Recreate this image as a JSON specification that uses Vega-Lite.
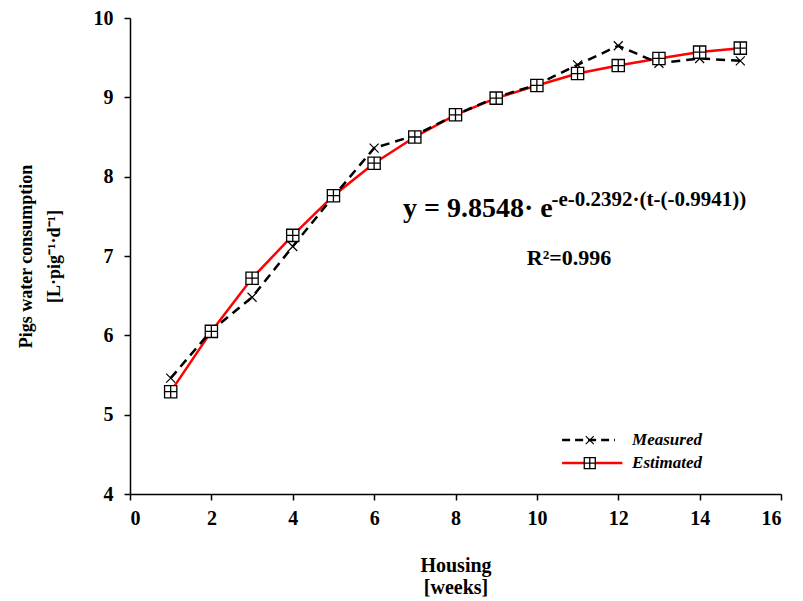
{
  "$schema": "https://vega.github.io/schema/vega-lite/v6.json",
  "width": 651,
  "height": 476,
  "autosize": {"type": "none"},
  "padding": {"left": 130, "top": 18, "right": 22, "bottom": 107},
  "background": "white",
  "config": {
    "view": {"stroke": null},
    "axis": {
      "grid": false,
      "labelFont": "Liberation Serif",
      "labelFontWeight": "bold",
      "labelFontSize": 20,
      "labelColor": "black",
      "titleFont": "Liberation Serif",
      "titleFontWeight": "bold",
      "titleColor": "black",
      "domainColor": "black",
      "tickColor": "black",
      "domainWidth": 1.5,
      "tickWidth": 1.5,
      "tickSize": 6
    }
  },
  "datasets": {
    "obs": [
      {"week": 1, "series": "Measured", "value": 5.46},
      {"week": 2, "series": "Measured", "value": 6.06},
      {"week": 3, "series": "Measured", "value": 6.48},
      {"week": 4, "series": "Measured", "value": 7.12},
      {"week": 5, "series": "Measured", "value": 7.75},
      {"week": 6, "series": "Measured", "value": 8.36},
      {"week": 7, "series": "Measured", "value": 8.52},
      {"week": 8, "series": "Measured", "value": 8.78},
      {"week": 9, "series": "Measured", "value": 9.0},
      {"week": 10, "series": "Measured", "value": 9.16},
      {"week": 11, "series": "Measured", "value": 9.41},
      {"week": 12, "series": "Measured", "value": 9.65},
      {"week": 13, "series": "Measured", "value": 9.43},
      {"week": 14, "series": "Measured", "value": 9.49},
      {"week": 15, "series": "Measured", "value": 9.46},
      {"week": 1, "series": "Estimated", "value": 5.29},
      {"week": 2, "series": "Estimated", "value": 6.05},
      {"week": 3, "series": "Estimated", "value": 6.72},
      {"week": 4, "series": "Estimated", "value": 7.26},
      {"week": 5, "series": "Estimated", "value": 7.76},
      {"week": 6, "series": "Estimated", "value": 8.17},
      {"week": 7, "series": "Estimated", "value": 8.5},
      {"week": 8, "series": "Estimated", "value": 8.78},
      {"week": 9, "series": "Estimated", "value": 8.99},
      {"week": 10, "series": "Estimated", "value": 9.15},
      {"week": 11, "series": "Estimated", "value": 9.3},
      {"week": 12, "series": "Estimated", "value": 9.4},
      {"week": 13, "series": "Estimated", "value": 9.49},
      {"week": 14, "series": "Estimated", "value": 9.57},
      {"week": 15, "series": "Estimated", "value": 9.62}
    ]
  },
  "layer": [
    {
      "data": {"name": "obs"},
      "transform": [{"filter": "datum.series === 'Estimated'"}],
      "mark": {"type": "line", "color": "#ff0000", "strokeWidth": 2.5},
      "encoding": {
        "x": {
          "field": "week",
          "type": "quantitative",
          "scale": {"domain": [0, 16], "nice": false, "zero": false},
          "axis": {
            "values": [0, 2, 4, 6, 8, 10, 12, 14, 16],
            "format": "d",
            "title": ["Housing", "[weeks]"],
            "titleFontSize": 20,
            "titlePadding": 27,
            "labelPadding": 8,
            "titleLineHeight": 22
          }
        },
        "y": {
          "field": "value",
          "type": "quantitative",
          "scale": {"domain": [4, 10], "nice": false, "zero": false},
          "axis": {
            "values": [4, 5, 6, 7, 8, 9, 10],
            "format": "d",
            "title": ["Pigs water consumption", "[L·pig⁻¹·d⁻¹]"],
            "titleFontSize": 18,
            "titlePadding": 30,
            "labelPadding": 11,
            "titleLineHeight": 28
          }
        }
      }
    },
    {
      "data": {"name": "obs"},
      "transform": [{"filter": "datum.series === 'Measured'"}],
      "mark": {"type": "line", "color": "black", "strokeWidth": 2.5, "strokeDash": [9, 6]},
      "encoding": {
        "x": {"field": "week", "type": "quantitative", "scale": {"domain": [0, 16], "nice": false, "zero": false}},
        "y": {"field": "value", "type": "quantitative", "scale": {"domain": [4, 10], "nice": false, "zero": false}}
      }
    },
    {
      "data": {"name": "obs"},
      "transform": [{"filter": "datum.series === 'Measured'"}],
      "mark": {"type": "point", "shape": "M-1,-1L1,1M-1,1L1,-1", "filled": false, "stroke": "black", "strokeWidth": 1.2, "size": 81, "opacity": 1},
      "encoding": {
        "x": {"field": "week", "type": "quantitative", "scale": {"domain": [0, 16], "nice": false, "zero": false}},
        "y": {"field": "value", "type": "quantitative", "scale": {"domain": [4, 10], "nice": false, "zero": false}}
      }
    },
    {
      "data": {"name": "obs"},
      "transform": [{"filter": "datum.series === 'Estimated'"}],
      "mark": {"type": "point", "shape": "M-1,-1H1V1H-1ZM0,-1V1M-1,0H1", "filled": true, "fill": "white", "stroke": "black", "strokeWidth": 1.3, "size": 150, "opacity": 1},
      "encoding": {
        "x": {"field": "week", "type": "quantitative", "scale": {"domain": [0, 16], "nice": false, "zero": false}},
        "y": {"field": "value", "type": "quantitative", "scale": {"domain": [4, 10], "nice": false, "zero": false}}
      }
    },
    {
      "data": {"values": [{"label": "y = 9.8548· e"}]},
      "mark": {"type": "text", "font": "Liberation Serif", "fontWeight": "bold", "fontSize": 28, "align": "left", "baseline": "alphabetic", "color": "black"},
      "encoding": {"x": {"datum": 6.71, "type": "quantitative"}, "y": {"datum": 7.49, "type": "quantitative"}, "text": {"field": "label"}}
    },
    {
      "data": {"values": [{"label": "-e-0.2392·(t-(-0.9941))"}]},
      "mark": {"type": "text", "font": "Liberation Serif", "fontWeight": "bold", "fontSize": 21, "align": "left", "baseline": "alphabetic", "color": "black"},
      "encoding": {"x": {"datum": 10.36, "type": "quantitative"}, "y": {"datum": 7.63, "type": "quantitative"}, "text": {"field": "label"}}
    },
    {
      "data": {"values": [{"label": "R²=0.996"}]},
      "mark": {"type": "text", "font": "Liberation Serif", "fontWeight": "bold", "fontSize": 22, "align": "center", "baseline": "alphabetic", "color": "black"},
      "encoding": {"x": {"datum": 10.79, "type": "quantitative"}, "y": {"datum": 6.887, "type": "quantitative"}, "text": {"field": "label"}}
    },
    {
      "data": {"values": [{"series": "Measured"}]},
      "mark": {"type": "rule", "color": "black", "strokeWidth": 2.5, "strokeDash": [8, 5]},
      "encoding": {"x": {"datum": 10.62, "type": "quantitative"}, "x2": {"datum": 11.92}, "y": {"datum": 4.68, "type": "quantitative"}}
    },
    {
      "data": {"values": [{"series": "Estimated"}]},
      "mark": {"type": "rule", "color": "#ff0000", "strokeWidth": 2.5},
      "encoding": {"x": {"datum": 10.62, "type": "quantitative"}, "x2": {"datum": 12.1}, "y": {"datum": 4.39, "type": "quantitative"}}
    },
    {
      "data": {"values": [{"series": "Measured"}]},
      "mark": {"type": "point", "shape": "M-1,-1L1,1M-1,1L1,-1", "filled": false, "stroke": "black", "strokeWidth": 1.2, "size": 64, "opacity": 1},
      "encoding": {"x": {"datum": 11.3, "type": "quantitative"}, "y": {"datum": 4.68, "type": "quantitative"}}
    },
    {
      "data": {"values": [{"series": "Estimated"}]},
      "mark": {"type": "point", "shape": "M-1,-1H1V1H-1ZM0,-1V1M-1,0H1", "filled": true, "fill": "white", "stroke": "black", "strokeWidth": 1.3, "size": 121, "opacity": 1},
      "encoding": {"x": {"datum": 11.3, "type": "quantitative"}, "y": {"datum": 4.39, "type": "quantitative"}}
    },
    {
      "data": {"values": [{"label": "Measured"}]},
      "mark": {"type": "text", "font": "Liberation Serif", "fontWeight": "bold", "fontStyle": "italic", "fontSize": 17, "align": "left", "baseline": "middle", "color": "black"},
      "encoding": {"x": {"datum": 12.34, "type": "quantitative"}, "y": {"datum": 4.68, "type": "quantitative"}, "text": {"field": "label"}}
    },
    {
      "data": {"values": [{"label": "Estimated"}]},
      "mark": {"type": "text", "font": "Liberation Serif", "fontWeight": "bold", "fontStyle": "italic", "fontSize": 17, "align": "left", "baseline": "middle", "color": "black"},
      "encoding": {"x": {"datum": 12.34, "type": "quantitative"}, "y": {"datum": 4.39, "type": "quantitative"}, "text": {"field": "label"}}
    }
  ]
}
